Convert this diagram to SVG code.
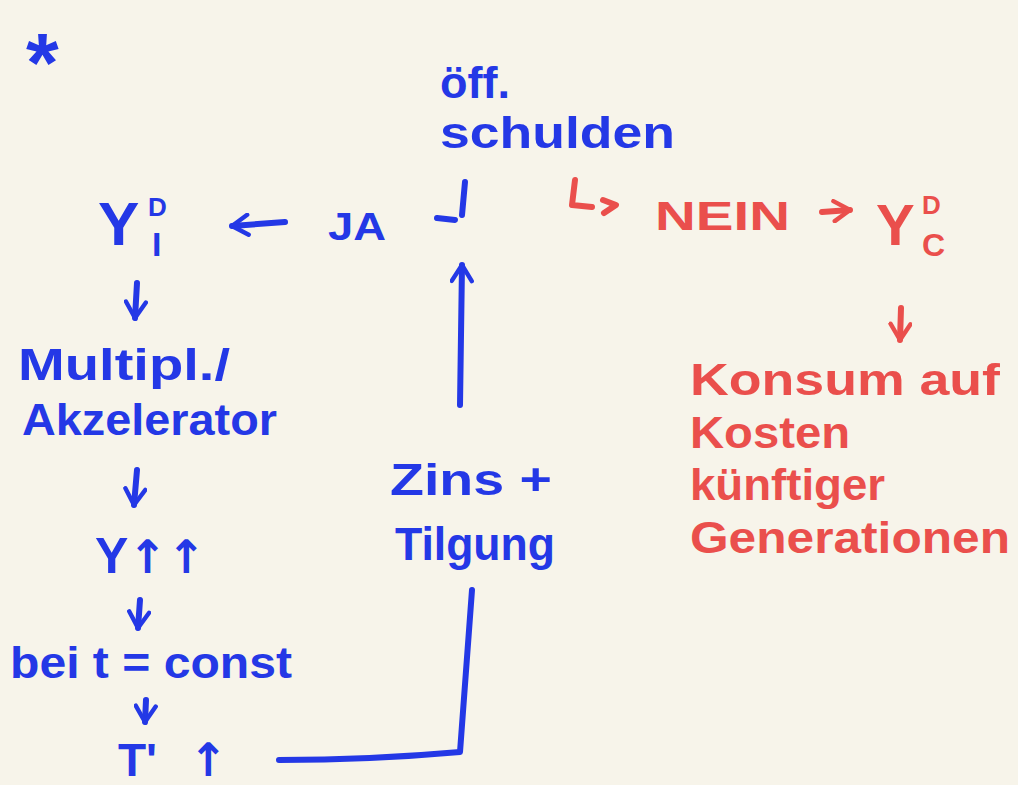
<svg xmlns="http://www.w3.org/2000/svg" width="1018" height="785" viewBox="0 0 1018 785">
<style>
.b{fill:#2438e6;font-family:"Liberation Sans",Arial,sans-serif;font-weight:bold}
.r{fill:#ea4f4c;font-family:"Liberation Sans",Arial,sans-serif;font-weight:bold}
.a{font-family:"DejaVu Sans",sans-serif;font-weight:bold}
.lb{fill:none;stroke:#2438e6;stroke-width:6;stroke-linecap:round;stroke-linejoin:round}
.lr{fill:none;stroke:#ea4f4c;stroke-width:6;stroke-linecap:round;stroke-linejoin:round}
</style>
<defs>
<marker id="hb" viewBox="0 0 12 12" refX="10" refY="6" markerWidth="4" markerHeight="4" orient="auto" markerUnits="strokeWidth"><path d="M2,1 L10,6 L2,11" fill="none" stroke="#2438e6" stroke-width="2.2" stroke-linecap="round" stroke-linejoin="round"/></marker>
<marker id="hr" viewBox="0 0 12 12" refX="10" refY="6" markerWidth="4" markerHeight="4" orient="auto" markerUnits="strokeWidth"><path d="M2,1 L10,6 L2,11" fill="none" stroke="#ea4f4c" stroke-width="2.2" stroke-linecap="round" stroke-linejoin="round"/></marker>
</defs>
<rect width="1018" height="785" fill="#f7f4ea"/>
<text class="b" x="26" y="92" font-size="84">*</text>

<g id="schulden">
<text class="b" x="440" y="98" font-size="44" textLength="70" lengthAdjust="spacingAndGlyphs">öff.</text>
<text class="b" x="440" y="148" font-size="44" textLength="235" lengthAdjust="spacingAndGlyphs">schulden</text>
<path class="lb" d="M465,182 L462,215 M437,218 L455,220"/>
</g>

<g id="ja"><text class="b" x="328" y="240" font-size="38" textLength="58" lengthAdjust="spacingAndGlyphs">JA</text></g>

<g id="ydi">
<text class="b" x="98" y="245" font-size="62">Y</text>
<text class="b" x="148" y="216" font-size="26">D</text>
<text class="b" x="152" y="256" font-size="34">I</text>
</g>

<g id="multiplikator">
<text class="b" x="18" y="380" font-size="44" textLength="212" lengthAdjust="spacingAndGlyphs">Multipl./</text>
<text class="b" x="22" y="435" font-size="44" textLength="255" lengthAdjust="spacingAndGlyphs">Akzelerator</text>
</g>

<g id="yup"><text class="b" x="95" y="573" font-size="50">Y<tspan class="a" font-size="46">↑↑</tspan></text></g>

<g id="bei"><text class="b" x="10" y="678" font-size="44" textLength="282" lengthAdjust="spacingAndGlyphs">bei t = const</text></g>

<g id="tup"><text class="b" x="118" y="776" font-size="46">T'<tspan class="a" dx="32" font-size="46">↑</tspan></text></g>

<g id="zins">
<text class="b" x="390" y="495" font-size="44" textLength="162" lengthAdjust="spacingAndGlyphs">Zins +</text>
<text class="b" x="395" y="560" font-size="46" textLength="160" lengthAdjust="spacingAndGlyphs">Tilgung</text>
</g>

<g id="nein">
<text class="r" x="655" y="230" font-size="40" textLength="135" lengthAdjust="spacingAndGlyphs">NEIN</text>
</g>

<g id="ydc">
<text class="r" x="876" y="245" font-size="58">Y</text>
<text class="r" x="922" y="214" font-size="26">D</text>
<text class="r" x="922" y="256" font-size="32">C</text>
</g>

<g id="konsum">
<text class="r" x="690" y="395" font-size="44" textLength="310" lengthAdjust="spacingAndGlyphs">Konsum auf</text>
<text class="r" x="690" y="448" font-size="44" textLength="160" lengthAdjust="spacingAndGlyphs">Kosten</text>
<text class="r" x="690" y="500" font-size="44" textLength="195" lengthAdjust="spacingAndGlyphs">künftiger</text>
<text class="r" x="690" y="553" font-size="44" textLength="320" lengthAdjust="spacingAndGlyphs">Generationen</text>
</g>

<g id="connectors">
<path class="lb" d="M285,222 L232,226" marker-end="url(#hb)"/>
<path class="lb" d="M137,283 L135,318" marker-end="url(#hb)"/>
<path class="lb" d="M137,470 L134,505" marker-end="url(#hb)"/>
<path class="lb" d="M140,600 L138,628" marker-end="url(#hb)"/>
<path class="lb" d="M146,700 L145,722" marker-end="url(#hb)"/>
<path class="lb" d="M279,760 Q370,760 460,752 Q465,680 472,590"/>
<path class="lb" d="M460,405 L462,265" marker-end="url(#hb)"/>
<path class="lr" d="M575,180 L572,205 L592,207"/>
<path class="lr" d="M603,200 L616,205 L604,213"/>
<path class="lr" d="M822,212 L850,210" marker-end="url(#hr)"/>
<path class="lr" d="M901,308 L900,340" marker-end="url(#hr)"/>
</g>
</svg>
